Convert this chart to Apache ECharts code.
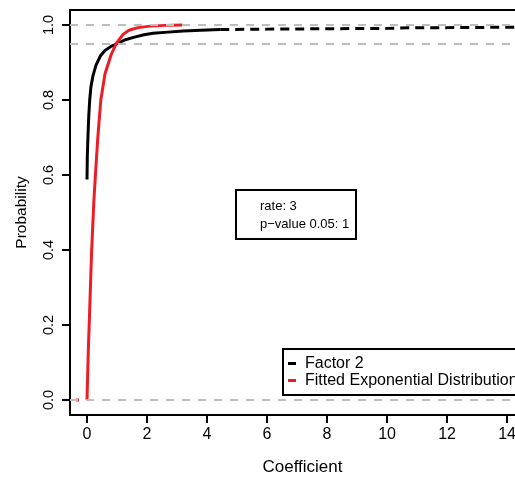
<!DOCTYPE html>
<html>
<head>
<meta charset="utf-8">
<script src="https://cdn.jsdelivr.net/npm/echarts@6/dist/echarts.min.js"></script>
<style>
  html, body { margin: 0; padding: 0; background: #fff; }
  #chart { width: 515px; height: 481px; }
</style>
</head>
<body>
<div id="chart"></div>
<script>
// Empirical distribution of the coefficient (solid part, then sparse tail)
const factorSolid = [
  [0, 0.588], [0.01, 0.65], [0.03, 0.70], [0.06, 0.76], [0.09, 0.80],
  [0.13, 0.835], [0.2, 0.865], [0.3, 0.893], [0.45, 0.918], [0.6, 0.932],
  [0.8, 0.943], [1.0, 0.95], [1.25, 0.96], [1.55, 0.967], [1.9, 0.974],
  [2.2, 0.978], [2.7, 0.981], [3.2, 0.984], [3.8, 0.986], [4.44, 0.988]
];
const factorTail = [
  [4.44, 0.988], [6, 0.989], [8, 0.990], [10, 0.991], [11, 0.993],
  [12, 0.993], [14, 0.994], [15, 0.995]
];
// Fitted exponential CDF (rate 3)
const fittedExp = [
  [-0.37, 0], [-0.27, 0], [-0.2, '-'],
  [0, 0], [0.01, 0.03], [0.044, 0.133], [0.1, 0.267], [0.155, 0.40],
  [0.23, 0.533], [0.28, 0.60], [0.36, 0.70], [0.46, 0.80], [0.6, 0.87],
  [0.8, 0.92], [0.97, 0.95], [1.2, 0.975], [1.4, 0.986], [1.7, 0.993],
  [2.11, 0.997], [2.6, 0.999], [3.17, 1.0]
];
// Reference levels
const refLevels = [1.0, 0.95, 0.0];
const xTicks = [0, 2, 4, 6, 8, 10, 12, 14];
const yTicks = [0, 0.2, 0.4, 0.6, 0.8, 1.0];
const infoLines = ['rate: 3', 'p\u2212value 0.05: 1'];

const FONT = '"Liberation Sans", Arial, Helvetica, sans-serif';
const chart = echarts.init(document.getElementById('chart'), null, { renderer: 'canvas' });

chart.setOption({
  animation: false,
  backgroundColor: '#ffffff',
  textStyle: { fontFamily: FONT, color: '#000' },
  grid: {
    left: 70, top: 10, width: 465, height: 405,
    outerBoundsMode: 'none', containLabel: false,
    show: true, borderColor: '#000', borderWidth: 2, backgroundColor: 'transparent'
  },
  xAxis: {
    type: 'value', min: -0.567, max: 14.93,
    name: 'Coefficient', nameLocation: 'middle', nameGap: 44,
    nameTextStyle: { fontSize: 17, color: '#000', fontFamily: FONT },
    axisLine: { show: true, onZero: false, lineStyle: { color: '#000', width: 2 } },
    axisTick: { show: true, length: 8, lineStyle: { color: '#000', width: 2 }, customValues: xTicks },
    axisLabel: { fontSize: 16, color: '#000', margin: 12, fontFamily: FONT, customValues: xTicks },
    splitLine: { show: false }
  },
  yAxis: {
    type: 'value', min: -0.04, max: 1.04,
    name: 'Probability', nameLocation: 'middle', nameGap: 40, nameRotate: 90,
    nameTextStyle: { fontSize: 15.5, color: '#000', fontFamily: FONT },
    axisLine: { show: true, onZero: false, lineStyle: { color: '#000', width: 2 } },
    axisTick: { show: true, length: 8, lineStyle: { color: '#000', width: 2 }, customValues: yTicks },
    axisLabel: {
      fontSize: 14.5, color: '#000', margin: 14, rotate: 90, fontFamily: FONT,
      customValues: yTicks,
      formatter: v => v.toFixed(1)
    },
    splitLine: { show: false }
  },
  legend: {
    left: 283, top: 349, orient: 'vertical',
    data: ['Factor 2', 'Fitted Exponential Distribution'],
    icon: 'rect', itemWidth: 8, itemHeight: 3, itemGap: 0,
    padding: [6, 40, 6, 5],
    borderColor: '#000', borderWidth: 2, backgroundColor: '#fff',
    textStyle: { fontSize: 16, color: '#000', lineHeight: 17, fontFamily: FONT, padding: [0, 0, 0, 4] },
    selectedMode: false
  },
  series: [
    {
      name: 'Factor 2', type: 'line', data: factorSolid, symbol: 'none',
      lineStyle: { color: '#000', width: 3 }, itemStyle: { color: '#000' }, z: 3
    },
    {
      name: 'Factor 2', type: 'line', data: factorTail, symbol: 'none',
      lineStyle: { color: '#000', width: 3, type: [9, 6] }, itemStyle: { color: '#000' }, z: 3
    },
    {
      name: 'Fitted Exponential Distribution', type: 'line', data: fittedExp,
      symbol: 'none', connectNulls: false,
      lineStyle: { color: '#ee1c25', width: 3 }, itemStyle: { color: '#ee1c25' }, z: 4
    },
    {
      name: 'levels', type: 'line', data: [], z: 6,
      markLine: {
        silent: true, symbol: 'none', label: { show: false },
        lineStyle: { color: '#bebebe', width: 2, type: [8, 8] },
        data: refLevels.map(v => ({ yAxis: v }))
      }
    }
  ],
  graphic: [
    {
      type: 'group', left: 235, top: 189, z: 10,
      children: [
        { type: 'rect', shape: { x: 0, y: 0, width: 120, height: 49 },
          style: { fill: '#fff', stroke: '#000', lineWidth: 2 } },
        { type: 'text', x: 24, y: 16,
          style: { text: infoLines[0], font: '13px ' + FONT, fill: '#000', verticalAlign: 'middle' } },
        { type: 'text', x: 24, y: 34,
          style: { text: infoLines[1], font: '13px ' + FONT, fill: '#000', verticalAlign: 'middle' } }
      ]
    }
  ]
});
</script>
</body>
</html>
